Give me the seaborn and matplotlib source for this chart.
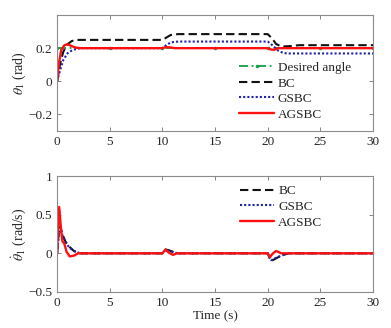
import numpy as np
import pandas as pd
import seaborn as sns
import matplotlib
matplotlib.use("Agg")
import matplotlib.pyplot as plt

# ---- angle responses (knot times in s, angle in rad) ----
des_t = [0, 5, 10, 15, 20, 25, 30]
des_y = [0.2, 0.2, 0.2, 0.2, 0.2, 0.2, 0.2]

bc_t = [0, 0.3, 0.6, 1.0, 1.4, 1.8, 10.0, 10.4, 10.8, 11.5, 20.0, 20.4, 20.8, 21.3, 22.0, 23.0, 30]
bc_y = [0, 0.11, 0.18, 0.225, 0.243, 0.25, 0.25, 0.265, 0.28, 0.285, 0.285, 0.26, 0.225, 0.21, 0.212, 0.218, 0.218]

gs_t = [0, 0.3, 0.6, 1.0, 1.5, 2.2, 10.0, 10.4, 10.8, 11.5, 20.0, 20.5, 21.0, 21.5, 22.0, 30]
gs_y = [0, 0.07, 0.13, 0.17, 0.19, 0.2, 0.2, 0.22, 0.235, 0.24, 0.24, 0.215, 0.185, 0.17, 0.168, 0.168]

ag_t = [0, 0.2, 0.4, 0.7, 1.0, 1.4, 1.8, 2.2, 10.0, 10.3, 10.7, 11.2, 20.0, 20.3, 20.6, 21.0, 30]
ag_y = [0, 0.12, 0.19, 0.218, 0.224, 0.212, 0.203, 0.2, 0.2, 0.206, 0.205, 0.2, 0.2, 0.192, 0.19, 0.2, 0.2]

# ---- angular velocity responses (rad/s) ----
vbc_t = [0, 0.15, 0.3, 0.5, 0.8, 1.2, 1.6, 2.2, 10.0, 10.3, 10.6, 11.0, 11.5, 20.0, 20.3, 20.6, 21.0, 21.5, 22.0, 30]
vbc_y = [0, 0.25, 0.35, 0.25, 0.15, 0.08, 0.03, 0, 0, 0.05, 0.04, 0.02, 0, 0, -0.1, -0.08, -0.05, -0.02, 0, 0]

vgs_t = [0, 0.15, 0.3, 0.5, 0.8, 1.2, 1.6, 2.2, 10.0, 10.3, 10.6, 11.0, 11.5, 20.0, 20.3, 20.6, 21.0, 21.5, 22.0, 30]
vgs_y = [0, 0.22, 0.31, 0.24, 0.14, 0.07, 0.03, 0, 0, 0.045, 0.035, 0.015, 0, 0, -0.09, -0.07, -0.045, -0.02, 0, 0]

vag_t = [0, 0.1, 0.2, 0.35, 0.5, 0.7, 0.9, 1.2, 1.6, 2.0, 10.0, 10.3, 10.6, 11.0, 11.4, 20.0, 20.2, 20.5, 20.8, 21.3, 30]
vag_y = [0, 0.35, 0.6, 0.35, 0.16, 0.12, 0.02, -0.04, -0.03, 0, 0, 0.05, 0.01, -0.02, 0, 0, -0.05, 0.0, 0.03, 0, 0]

x_ticks = [0, 5, 10, 15, 20, 25, 30]
top_yticks = [-0.2, 0, 0.2]
bot_yticks = [-0.5, 0, 0.5, 1]

sns.set_style("ticks")
plt.rcParams["font.family"] = ["Liberation Serif", "DejaVu Serif"]
plt.rcParams["mathtext.fontset"] = "stix"
plt.rcParams["xtick.direction"] = "in"
plt.rcParams["ytick.direction"] = "in"

def frame(name, t, y):
    return pd.DataFrame({"t": t, "y": y, "s": name})

fig = plt.figure(figsize=(3.91, 3.28), dpi=100)
ax1 = fig.add_axes([0.146, 0.601, 0.808, 0.353])
ax2 = fig.add_axes([0.146, 0.110, 0.808, 0.353])

styles = {
    "Desired angle": dict(color="#10a040", ls=(0, (5, 2, 1, 2)), lw=1.3, marker="o", ms=2.5),
    "BC": dict(color="#111111", ls=(0, (4, 2)), lw=1.5),
    "GSBC": dict(color="#2020b0", ls=(0, (1, 1)), lw=1.5),
    "AGSBC": dict(color="#ff1010", ls="-", lw=1.7),
}

top = [("Desired angle", des_t, des_y), ("BC", bc_t, bc_y), ("GSBC", gs_t, gs_y), ("AGSBC", ag_t, ag_y)]
for name, t, y in top:
    st = styles[name]
    sns.lineplot(data=frame(name, t, y), x="t", y="y", ax=ax1, label=name,
                 color=st["color"], linestyle=st["ls"], linewidth=st["lw"],
                 marker=st.get("marker"), markersize=st.get("ms", 0),
                 markeredgewidth=0, estimator=None)

bot = [("BC", vbc_t, vbc_y), ("GSBC", vgs_t, vgs_y), ("AGSBC", vag_t, vag_y)]
for name, t, y in bot:
    st = styles[name]
    sns.lineplot(data=frame(name, t, y), x="t", y="y", ax=ax2, label=name,
                 color=st["color"], linestyle=st["ls"], linewidth=st["lw"],
                 estimator=None)

for ax in (ax1, ax2):
    ax.set_xlim(0, 30)
    ax.set_xticks(x_ticks)
    ax.tick_params(labelsize=9.5, length=3, width=0.6, color="0.45",
                   top=True, right=True, pad=3.5)
    for sp in ax.spines.values():
        sp.set_visible(True)
        sp.set_color("0.55")
        sp.set_linewidth(0.8)
    ax.set_xlabel("")

ax1.set_ylim(-0.3, 0.4)
ax1.set_yticks(top_yticks)
ax1.set_yticklabels(["\u22120.2", "0", "0.2"])
ax1.set_ylabel(r"$\theta_1$ (rad)", fontsize=10, labelpad=0)

ax2.set_ylim(-0.5, 1)
ax2.set_yticks(bot_yticks)
ax2.set_yticklabels(["\u22120.5", "0", "0.5", "1"])
ax2.set_ylabel(r"$\dot{\theta}_1$ (rad/s)", fontsize=10, labelpad=0)
ax2.set_xlabel("Time (s)", fontsize=9.5, labelpad=1)

ax1.legend(loc="lower right", bbox_to_anchor=(0.955, 0.02), frameon=False,
           fontsize=9.5, handlelength=2.6, handletextpad=0.3, labelspacing=0.25,
           borderaxespad=0.2)
ax2.legend(loc="upper right", bbox_to_anchor=(0.865, 0.99), frameon=False,
           fontsize=9.5, handlelength=2.6, handletextpad=0.3, labelspacing=0.25,
           borderaxespad=0.2)

fig.savefig("out.png", dpi=100)
